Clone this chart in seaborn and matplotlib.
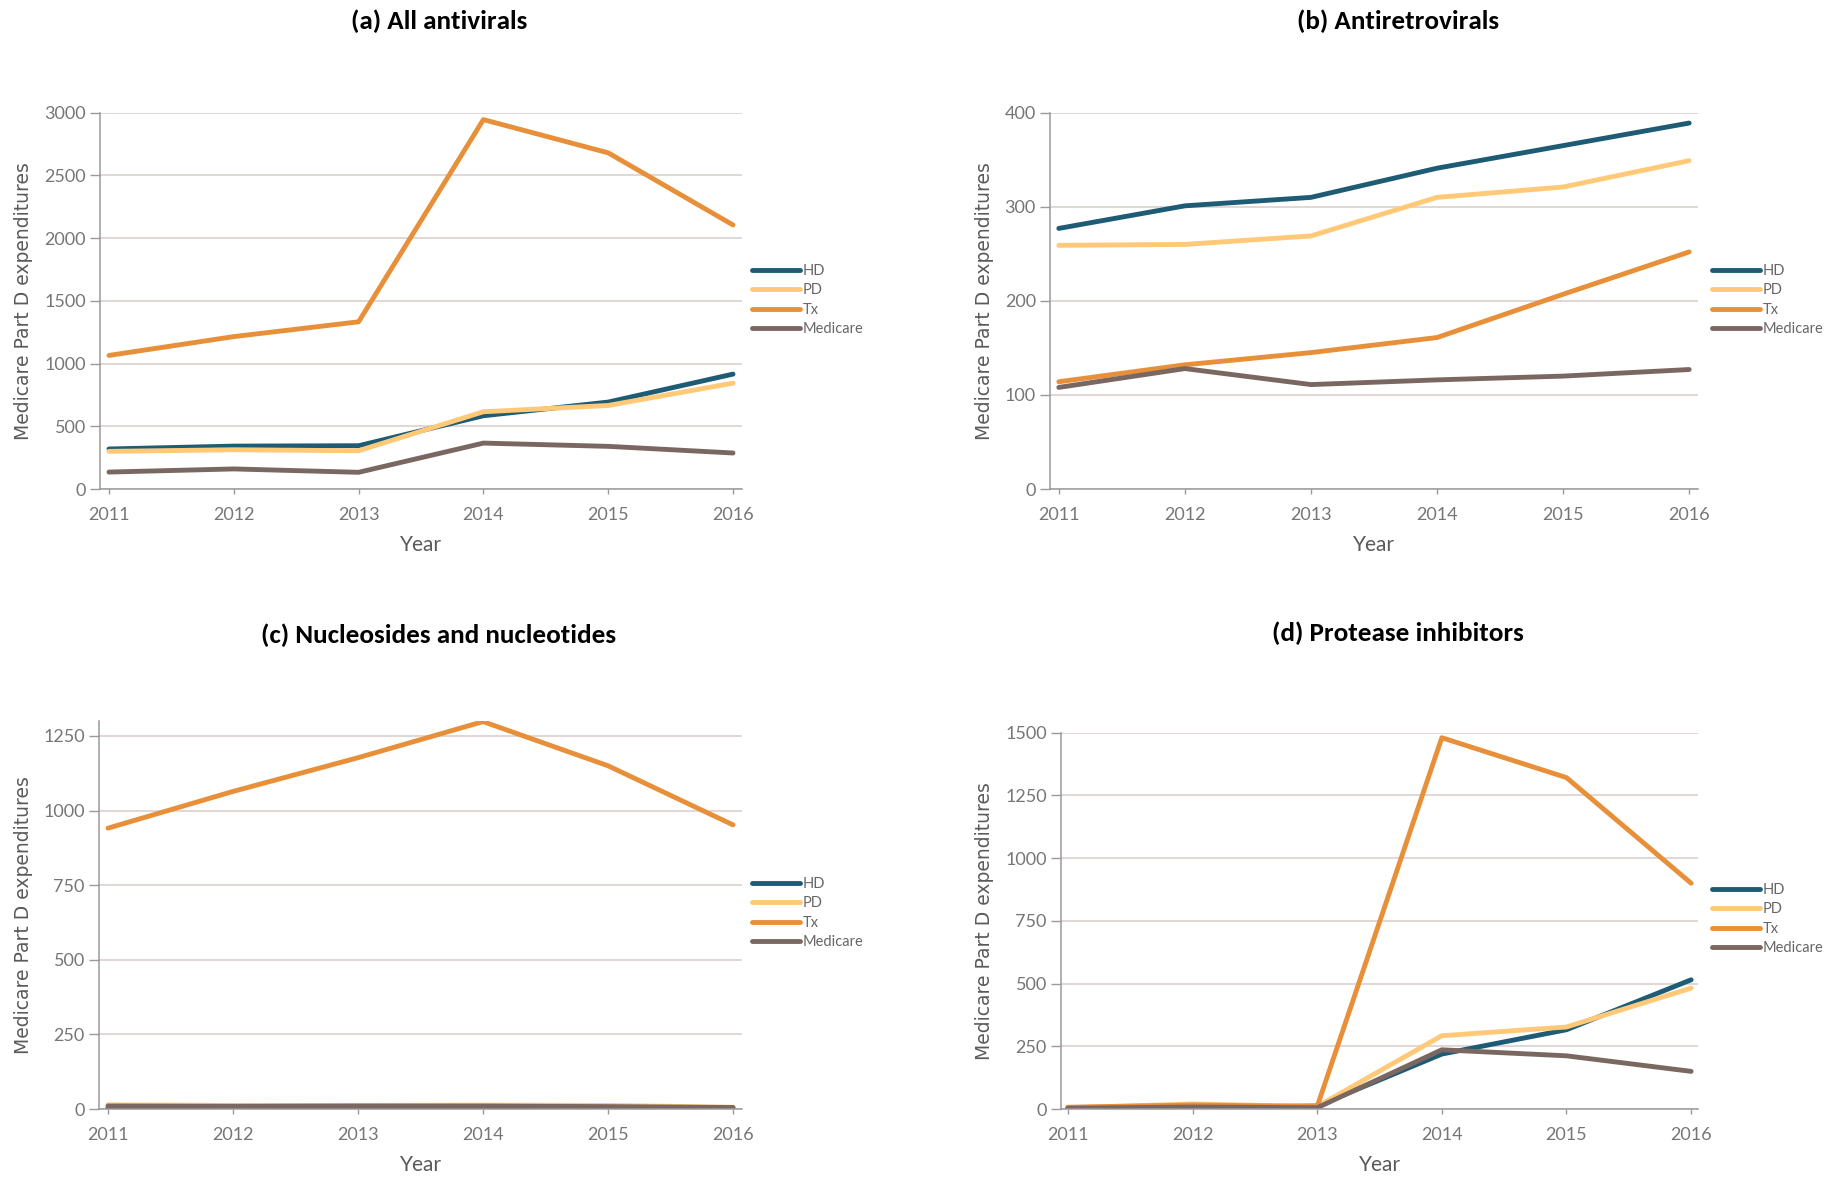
import matplotlib
matplotlib.use("Agg")
import matplotlib.pyplot as plt
import numpy as np
import pandas as pd
import seaborn as sns
from matplotlib import font_manager

years = [2011, 2012, 2013, 2014, 2015, 2016]
groups = ["HD", "PD", "Tx", "Medicare"]

# (a) All antivirals
all_hd = [319, 342, 345, 584, 693, 916]
all_pd = [300, 313, 305, 616, 666, 844]
all_tx = [1065, 1215, 1333, 2945, 2680, 2105]
all_med = [135, 160, 133, 366, 340, 287]

# (b) Antiretrovirals
arv_hd = [277, 301, 310, 341, 365, 389]
arv_pd = [259, 260, 269, 310, 321, 349]
arv_tx = [114, 132, 145, 161, 207, 252]
arv_med = [108, 128, 111, 116, 120, 127]

# (c) Nucleosides and nucleotides
nuc_hd = [5, 5, 5, 6, 5, 3]
nuc_pd = [14, 12, 12, 13, 12, 6]
nuc_tx = [941, 1064, 1177, 1298, 1150, 952]
nuc_med = [10, 9, 10, 10, 8, 5]

# (d) Protease inhibitors
pi_hd = [5, 8, 12, 219, 316, 515]
pi_pd = [5, 20, 10, 292, 327, 482]
pi_tx = [7, 16, 10, 1480, 1321, 900]
pi_med = [3, 8, 5, 236, 212, 150]

titles = ["(a) All antivirals", "(b) Antiretrovirals",
          "(c) Nucleosides and nucleotides", "(d) Protease inhibitors"]
y_ticks_a = [0, 500, 1000, 1500, 2000, 2500, 3000]
y_ticks_b = [0, 100, 200, 300, 400]
y_ticks_c = [0, 250, 500, 750, 1000, 1250]
y_ticks_d = [0, 250, 500, 750, 1000, 1250, 1500]

palette = {"HD": "#1E5B74", "PD": "#FFC978", "Tx": "#E88F3A", "Medicare": "#7B6761"}

sns.set_theme(style="white")

available = {f.name for f in font_manager.fontManager.ttflist}
def pick(*names):
    for n in names:
        if n in available:
            return n
    return "DejaVu Sans"

tick_font = pick("Liberation Sans Narrow", "Lato")
title_font = pick("Carlito", "Lato", "Open Sans")
ylab_font = "DejaVu Sans"
plt.rcParams["font.family"] = [tick_font, "DejaVu Sans"]

W, H = 1845, 1177
fig = plt.figure(figsize=(W / 100, H / 100), dpi=100)
fig.patch.set_facecolor("white")


def px_axes(l, t, r, b):
    return fig.add_axes([l / W, 1 - b / H, (r - l) / W, (b - t) / H])


def long_form(hd, pd_, tx, med):
    rows = []
    for g, vals in zip(groups, [hd, pd_, tx, med]):
        for yr, v in zip(years, vals):
            rows.append({"Year": yr, "value": v, "group": g})
    return pd.DataFrame(rows)


panels = [
    dict(box=(100, 112.7, 742, 489), data=(all_hd, all_pd, all_tx, all_med),
         ylim=(0, 3000), yticks=y_ticks_a, xpad=0.072, title_xy=(439, 21),
         ylab_x=24, leg=(752, 264)),
    dict(box=(1050, 112.7, 1698, 489), data=(arv_hd, arv_pd, arv_tx, arv_med),
         ylim=(0, 400), yticks=y_ticks_b, xpad=0.07, title_xy=(1398, 21),
         ylab_x=984, leg=(1712, 264)),
    dict(box=(99, 721, 742, 1109), data=(nuc_hd, nuc_pd, nuc_tx, nuc_med),
         ylim=(0, 1300), yticks=y_ticks_c, xpad=0.072, title_xy=(439, 635),
         ylab_x=24, leg=(752, 877)),
    dict(box=(1061, 732.7, 1698, 1109), data=(pi_hd, pi_pd, pi_tx, pi_med),
         ylim=(0, 1500), yticks=y_ticks_d, xpad=0.055, title_xy=(1398, 633),
         ylab_x=984, leg=(1712, 883)),
]

grey = "#9A9A9A"
text_grey = "#767676"

for title, p in zip(titles, panels):
    l, t, r, b = p["box"]
    ax = px_axes(l, t, r, b)
    df = long_form(*p["data"])
    sns.lineplot(data=df, x="Year", y="value", hue="group", hue_order=groups,
                 palette=palette, linewidth=3.5, ax=ax, legend=True)
    handles, labels = ax.get_legend_handles_labels()
    ax.get_legend().remove()

    ax.set_xlim(2011 - p["xpad"], 2016 + p["xpad"])
    ax.set_ylim(*p["ylim"])
    ax.set_xticks(years)
    ax.set_xticklabels([str(y) for y in years])
    ax.set_yticks(p["yticks"])
    ax.yaxis.grid(True, color="#DDD0D0", linewidth=1.2)
    ax.xaxis.grid(False)
    ax.set_axisbelow(True)
    for s in ["top", "right"]:
        ax.spines[s].set_visible(False)
    for s in ["left", "bottom"]:
        ax.spines[s].set_color(grey)
        ax.spines[s].set_linewidth(1.1)
    ax.tick_params(axis="y", length=7.2, width=1, color=grey, pad=3,
                   labelsize=13, labelcolor=text_grey, left=True)
    ax.tick_params(axis="x", length=3.6, width=1, color=grey, pad=9,
                   labelsize=13, labelcolor=text_grey, bottom=True)
    ax.set_xlabel("Year", fontsize=15, color="#5A5A5A", labelpad=9)
    ax.set_ylabel("")
    fig.text(p["ylab_x"] / W, 1 - ((t + b) / 2) / H, "Medicare Part D expenditures",
             rotation=90, ha="center", va="center", fontsize=13.5,
             color="#5A5A5A", family=[ylab_font])
    fig.text(p["title_xy"][0] / W, 1 - p["title_xy"][1] / H, title,
             ha="center", va="center", fontsize=19.5, fontweight="bold",
             color="black", family=[title_font, "DejaVu Sans"])

    lx, ly = p["leg"]
    ax.legend(handles, labels, loc="upper left",
              bbox_to_anchor=(lx / W, 1 - ly / H), bbox_transform=fig.transFigure,
              frameon=False, fontsize=10.5, labelcolor="#666666",
              handlelength=3.3, handletextpad=0.15, labelspacing=0.37,
              borderpad=0, borderaxespad=0)

fig.savefig("out.png", dpi=100, facecolor="white")
